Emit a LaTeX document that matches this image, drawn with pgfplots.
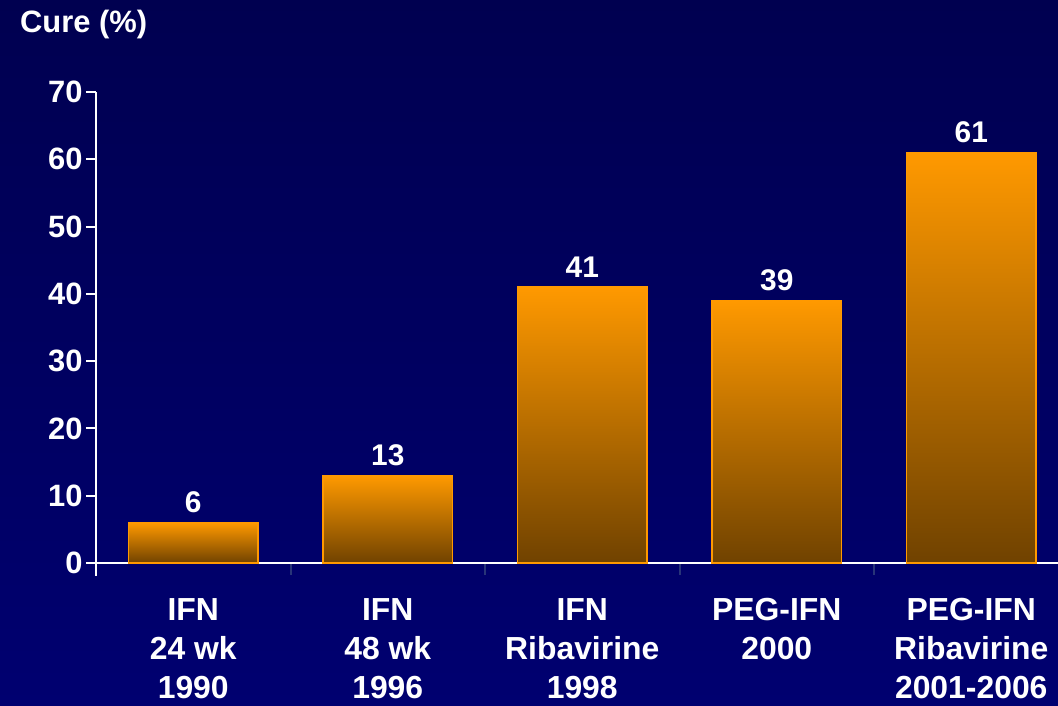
\documentclass[border=0pt]{standalone}
\usepackage{pgfplots}
\pgfplotsset{compat=1.18}
\usepackage{fontspec}
\setmainfont{Liberation Sans}

\definecolor{navytop}{RGB}{0,0,80}
\definecolor{navybottom}{RGB}{0,0,112}
\definecolor{barorange}{RGB}{255,153,0}
\definecolor{barbrown}{RGB}{112,66,0}
\definecolor{sepblue}{RGB}{40,52,120}

\pgfplotsset{
  /pgf/number format/assume math mode=true,
  % each bar is its own plot so that the gradient runs over each bar separately
  curebar/.style={ybar, bar shift=0pt, bar width=0.668, draw=barorange, line width=1.5bp,
    top color=barorange, bottom color=barbrown,
    nodes near coords,
    nodes near coords style={text=white, yshift=6bp,
      font=\bfseries\fontsize{30}{36}\selectfont}},
}

\begin{document}
\begin{tikzpicture}
% slide background
\shade[top color=navytop, bottom color=navybottom] (0bp,0bp) rectangle (1058bp,706bp);
\path[use as bounding box] (0bp,0bp) rectangle (1058bp,706bp);
\node[anchor=west, text=white, font=\bfseries\fontsize{31}{37}\selectfont, inner sep=0pt]
  at (20bp,681bp) {Cure (\%)};
\begin{axis}[
  at={(96bp,143bp)}, anchor=south west,
  scale only axis, width=962bp, height=471bp,
  xmin=-0.5, xmax=4.446, ymin=0, ymax=70,
  axis x line*=bottom, axis y line*=left,
  axis line style={white, line width=2bp},
  tick align=outside,
  major tick length=10bp, minor tick length=12bp,
  ytick={0,10,...,70},
  ytick style={white, line width=2bp},
  yticklabel style={font=\bfseries\fontsize{31}{37}\selectfont},
  xtick={0,...,4},
  xticklabels={{IFN\\24 wk\\1990},{IFN\\48 wk\\1996},{IFN\\Ribavirine\\1998},{PEG-IFN\\2000},{PEG-IFN\\Ribavirine\\2001-2006}},
  major x tick style={draw=none},
  minor xtick={0.5,1.5,2.5,3.5},
  minor x tick style={sepblue, line width=2bp},
  ticklabel style={text=white},
  xticklabel style={align=center, anchor=north, yshift=-22bp,
    font=\bfseries\fontsize{32}{39}\selectfont},
  clip=false,
]
\addplot[curebar] coordinates {(0,6)};
\addplot[curebar] coordinates {(1,13)};
\addplot[curebar] coordinates {(2,41)};
\addplot[curebar] coordinates {(3,39)};
\addplot[curebar] coordinates {(4,61)};
\draw[white, line width=2bp] (axis cs:-0.5,0) -- ++(0bp,-13bp);
\end{axis}
\end{tikzpicture}
\end{document}
